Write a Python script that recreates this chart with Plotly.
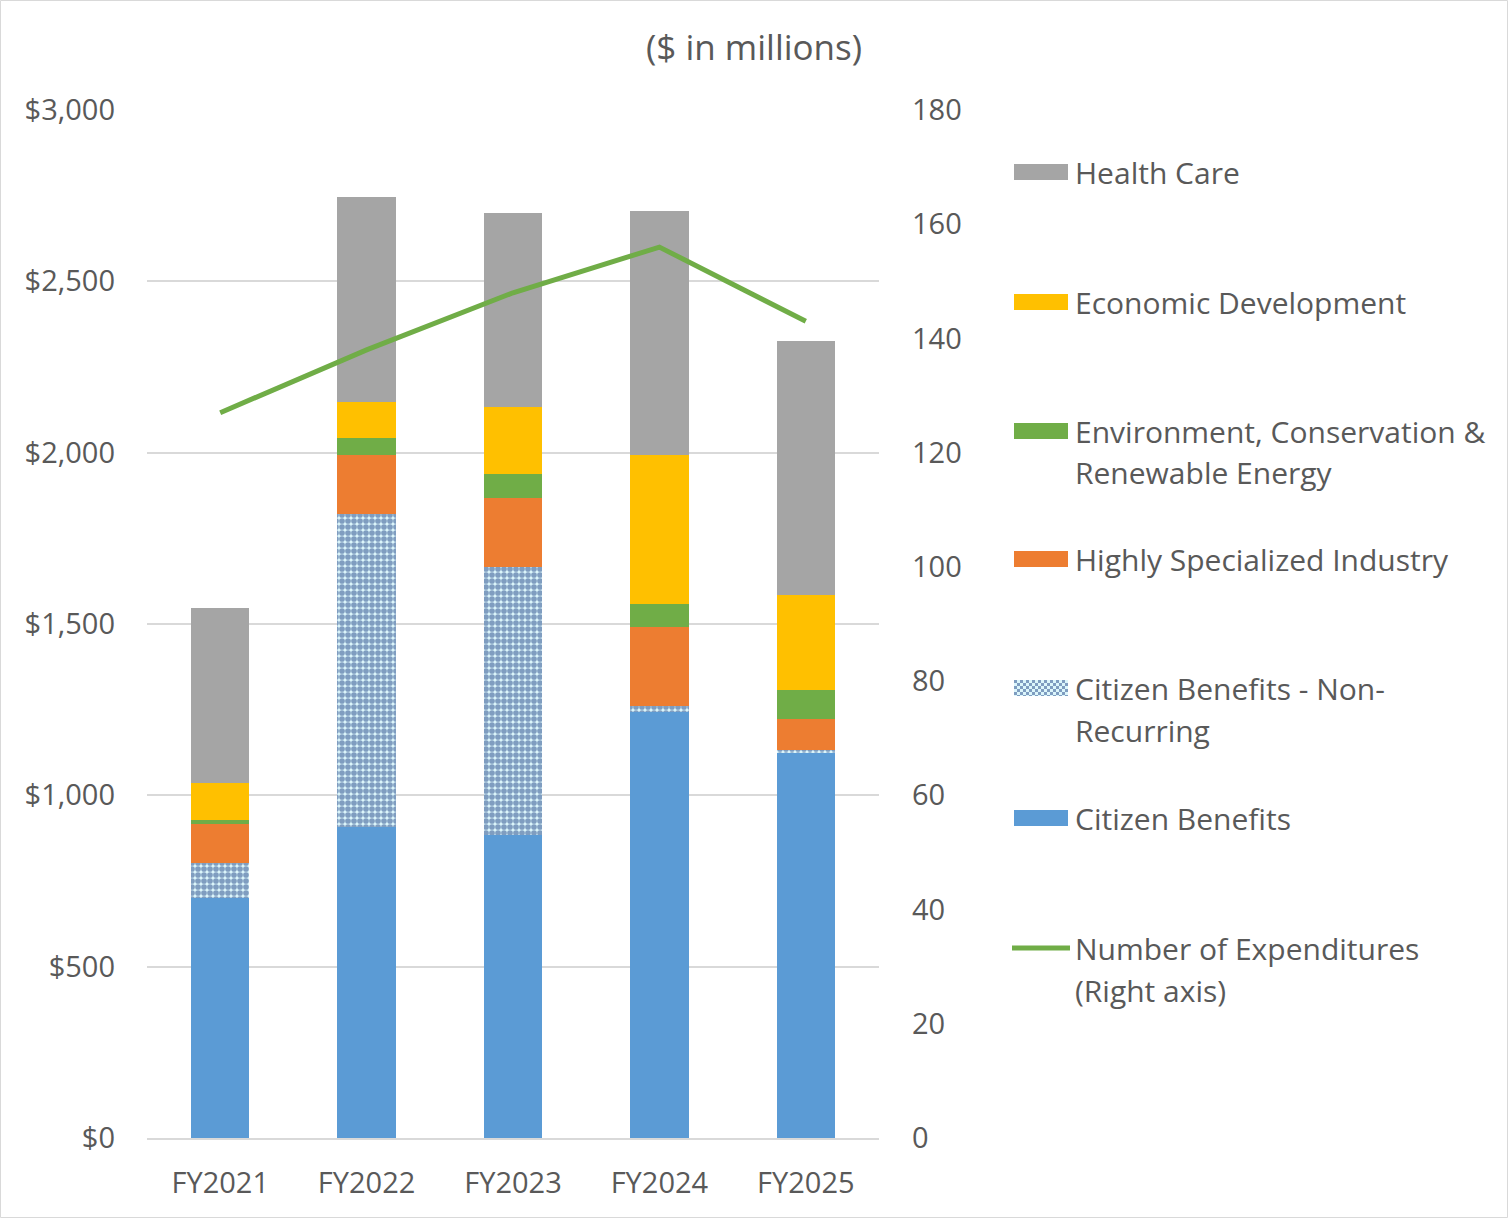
import plotly.graph_objects as go

years = ["FY2021", "FY2022", "FY2023", "FY2024", "FY2025"]
citizen_benefits = [700, 907, 884, 1243, 1123]
citizen_nonrecurring = [102, 913, 782, 17, 9]
highly_specialized = [114, 172, 201, 230, 90]
environment = [12, 52, 70, 67, 85]
economic_dev = [108, 105, 195, 435, 277]
health_care = [511, 598, 566, 712, 741]
num_expenditures = [127, 138, 148, 156, 143]

left_ticks = [0, 500, 1000, 1500, 2000, 2500, 3000]
left_tick_text = ["$0", "$500", "$1,000", "$1,500", "$2,000", "$2,500", "$3,000"]
right_ticks = [0, 20, 40, 60, 80, 100, 120, 140, 160, 180]

FONT = "Open Sans"
FS = 29
TXT = "#595959"
W, H = 1508, 1218
L, R, T, B = 147, 879, 110, 1138

fig = go.Figure()

series = [
    ("Citizen Benefits", citizen_benefits, "#5b9bd5", None),
    ("Citizen Benefits - Non-Recurring", citizen_nonrecurring, "#dcf6fb", "pattern"),
    ("Highly Specialized Industry", highly_specialized, "#ed7d31", None),
    ("Environment, Conservation & Renewable Energy", environment, "#70ad47", None),
    ("Economic Development", economic_dev, "#ffc000", None),
    ("Health Care", health_care, "#a5a5a5", None),
]
for name, vals, col, pat in series:
    marker = dict(color=col, line=dict(width=0))
    if pat:
        marker["pattern"] = dict(shape=".", fgcolor="#7f9dc0", bgcolor="#dcf6fb",
                                 size=6, solidity=0.7, fillmode="replace")
    fig.add_trace(go.Bar(x=years, y=vals, name=name, marker=marker, showlegend=False))

fig.add_trace(go.Scatter(x=years, y=num_expenditures, name="Number of Expenditures (Right axis)",
                         mode="lines", line=dict(color="#70ad47", width=5), yaxis="y2",
                         showlegend=False))

fig.update_layout(
    width=W, height=H,
    margin=dict(l=L, r=W - R, t=T, b=H - B),
    barmode="stack", bargap=0.6,
    paper_bgcolor="white", plot_bgcolor="white",
    font=dict(family=FONT, size=FS, color=TXT),
    xaxis=dict(type="category", range=[-0.5, 4.5], showgrid=False, showline=True,
               linecolor="#d9d9d9", linewidth=2, ticks="", ticklabelstandoff=18,
               tickfont=dict(size=FS, color=TXT)),
    yaxis=dict(range=[0, 3000], tickvals=left_ticks, ticktext=left_tick_text,
               showgrid=True, gridcolor="#d9d9d9", gridwidth=2, zeroline=False,
               showline=False, ticks="", ticklabelstandoff=31,
               tickfont=dict(size=FS, color=TXT)),
    yaxis2=dict(range=[0, 180], tickvals=right_ticks, overlaying="y", side="right",
                showgrid=False, zeroline=False, showline=False, ticks="",
                ticklabelstandoff=32, tickfont=dict(size=FS, color=TXT)),
)

def px_x(p):
    return (p - L) / (R - L)

def px_y(p):
    return (B - p) / (B - T)

# title
fig.add_annotation(text="($ in millions)", xref="paper", yref="paper",
                   x=px_x(754), y=px_y(47), xanchor="center", yanchor="middle",
                   showarrow=False, font=dict(size=35, color=TXT))

# legend (manual)
legend_items = [
    (["Health Care"], "#a5a5a5", "bar", 172),
    (["Economic Development"], "#ffc000", "bar", 302),
    (["Environment, Conservation &", "Renewable Energy"], "#70ad47", "bar", 431),
    (["Highly Specialized Industry"], "#ed7d31", "bar", 559),
    (["Citizen Benefits - Non-", "Recurring"], "#dcf6fb", "pattern", 688),
    (["Citizen Benefits"], "#5b9bd5", "bar", 818),
    (["Number of Expenditures", "(Right axis)"], "#70ad47", "line", 948),
]
for lines, col, kind, y0 in legend_items:
    for i, line in enumerate(lines):
        fig.add_annotation(text=line, xref="paper", yref="paper",
                           x=px_x(1073), y=px_y(y0 + i * 42), xanchor="left",
                           yanchor="middle", showarrow=False,
                           font=dict(size=FS + 1, color=TXT))
    if kind == "line":
        fig.add_shape(type="line", xref="paper", yref="paper",
                      x0=px_x(1012), x1=px_x(1070), y0=px_y(y0), y1=px_y(y0),
                      line=dict(color=col, width=5))
    elif kind == "bar":
        fig.add_shape(type="rect", xref="paper", yref="paper",
                      x0=px_x(1014), x1=px_x(1068), y0=px_y(y0 - 8), y1=px_y(y0 + 8),
                      fillcolor=col, line=dict(width=0))
    else:
        fig.add_shape(type="rect", xref="paper", yref="paper",
                      x0=px_x(1014), x1=px_x(1068), y0=px_y(y0 - 8), y1=px_y(y0 + 8),
                      fillcolor=col, line=dict(width=0))
        # checker swatch
        cell = 3
        for r in range(16 // cell + 1):
            for c in range(54 // cell):
                if (r + c) % 2 == 0:
                    xa = 1014 + c * cell
                    ya = y0 - 8 + r * cell
                    yb = min(ya + cell, y0 + 8)
                    if yb <= ya:
                        continue
                    fig.add_shape(type="rect", xref="paper", yref="paper",
                                  x0=px_x(xa), x1=px_x(xa + cell),
                                  y0=px_y(ya), y1=px_y(yb),
                                  fillcolor="#7f9dc0", line=dict(width=0))

# figure border
fig.add_shape(type="rect", xref="paper", yref="paper",
              x0=px_x(0.5), x1=px_x(W - 0.5), y0=px_y(H - 0.5), y1=px_y(0.5),
              line=dict(color="#d9d9d9", width=1), fillcolor="rgba(0,0,0,0)")

fig.write_html("out.html")
